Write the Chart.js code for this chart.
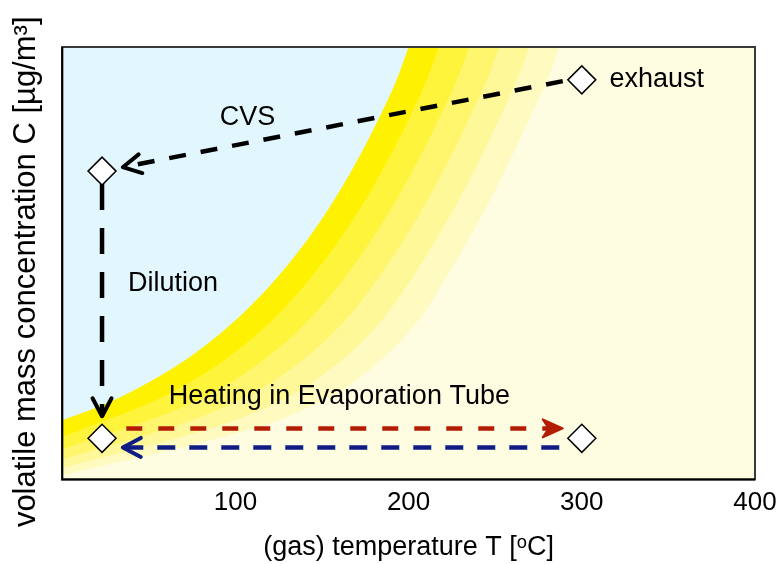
<!DOCTYPE html>
<html>
<head>
<meta charset="utf-8">
<script src="https://cdn.jsdelivr.net/npm/chart.js@4.4.0/dist/chart.umd.min.js"></script>
<style>
  body { margin: 0; background: #fff; }
  #wrap { width: 778px; height: 564px; }
</style>
</head>
<body>
<div id="wrap"><canvas id="volatileChart"></canvas></div>
<script>
// x axis tick labels (temperature, degC)
var tickTemps = [100, 200, 300, 400];

// state points: exhaust, after CVS, diluted, heated
var stateT = [300, 23, 23, 300];
var stateC = [92.4, 71.3, 9.5, 9.5];

// contour edges [T, C], from the saturation edge outwards
var edge0 = [[0,13.7],[18.5,16.4],[41.5,20.6],[70.7,27.5],[91.5,33.8],[108,39.8],[122.8,46.1],[141.3,55.3],[157,64.6],[170.4,73.8],[182.4,83.1],[193.1,92.4],[200,100],[206.5,107.4],[400,107.4]];
var edge1 = [[0,9.8],[25,13.7],[43,16.4],[65.5,20.6],[93.3,27.5],[113.1,33.8],[128.6,39.8],[142.4,46.1],[159.9,55.3],[175,64.6],[188,73.8],[199.8,83.1],[210.5,92.4],[217.4,100],[223.9,107.4],[400,107.4]];
var edge2 = [[0,7.0],[50,13.7],[67.5,16.4],[89.5,20.6],[115.9,27.5],[134.7,33.8],[149.2,39.8],[162,46.1],[178.5,55.3],[193,64.6],[205.6,73.8],[217.2,83.1],[227.9,92.4],[234.8,100],[241.3,107.4],[400,107.4]];
var edge3 = [[0,4.6],[75,13.7],[92,16.4],[113.5,20.6],[138.5,27.5],[156.3,33.8],[169.8,39.8],[181.6,46.1],[197.1,55.3],[211,64.6],[223.2,73.8],[234.6,83.1],[245.3,92.4],[252.2,100],[258.7,107.4],[400,107.4]];
var edge4 = [[0,2.6],[100,13.7],[116.5,16.4],[137.5,20.6],[161.1,27.5],[177.9,33.8],[190.4,39.8],[201.2,46.1],[215.7,55.3],[229,64.6],[240.8,73.8],[252,83.1],[262.7,92.4],[269.6,100],[276.1,107.4],[400,107.4]];
var edge5 = [[0,0.9],[125,13.7],[141,16.4],[161.5,20.6],[183.7,27.5],[199.5,33.8],[211,39.8],[220.8,46.1],[234.3,55.3],[247,64.6],[258.4,73.8],[269.4,83.1],[280.1,92.4],[287,100],[293.5,107.4],[400,107.4]];
var bandColors = ['#fff200', '#fff43c', '#fff66e', '#fff899', '#fffabf', '#fefce1'];

// process arrows
var cvsT = [289, 35],        cvsC = [92.1, 72.2];
var dilutionT = [23, 23],    dilutionC = [68.3, 14.6];
var heatingT = [37, 289],    heatingC = [11.8, 11.8];
var coolingT = [287, 35],    coolingC = [7.4, 7.4];

// text labels
var labelText = ['exhaust', 'CVS', 'Dilution', 'Heating in Evaporation Tube'];
var labelT = [316, 107, 38, 61.5];
var labelC = [92.4, 83.6, 45.4, 19.2];
var labelAlign = ['left', 'center', 'left', 'left'];

Chart.defaults.font.family = "'Liberation Sans', Arial, sans-serif";
Chart.defaults.color = '#000';

function toPoints(ts, cs) {
    return ts.map(function(t, i) { return { x: t, y: cs[i] }; });
}

var datasets = [];

datasets.push({
    data: toPoints(stateT, stateC),
    showLine: false,
    pointStyle: 'rectRot',
    pointRadius: 14,
    pointBackgroundColor: '#fff',
    pointBorderColor: '#000',
    pointBorderWidth: 1.5,
    order: 0
});

function arrow(ts, cs, color, dash, head) {
    return {
        data: toPoints(ts, cs),
        borderColor: color,
        borderWidth: 4.5,
        borderDash: dash,
        pointRadius: 0,
        fill: false,
        tension: 0,
        arrowHead: head,
        order: 1
    };
}
datasets.push(arrow(cvsT, cvsC, '#000', [17, 15], 'open'));
datasets.push(arrow(dilutionT, dilutionC, '#000', [26, 18], 'open'));
datasets.push(arrow(heatingT, heatingC, '#b31d04', [16, 16], 'solid'));
datasets.push(arrow(coolingT, coolingC, '#0f1c84', [18, 14], 'open'));

[edge0, edge1, edge2, edge3, edge4, edge5].forEach(function(edge, i) {
    datasets.push({
        data: edge.map(function(p) { return { x: p[0], y: p[1] }; }),
        fill: 'start',
        backgroundColor: bandColors[i],
        borderColor: 'rgba(0,0,0,0)',
        borderWidth: 0,
        pointRadius: 0,
        cubicInterpolationMode: 'monotone',
        order: 10 - i
    });
});

var frame = {
    id: 'frame',
    beforeDraw: function(chart) {
        var ctx = chart.ctx, a = chart.chartArea;
        ctx.save();
        ctx.fillStyle = '#fff';
        ctx.fillRect(0, 0, chart.width, chart.height);
        ctx.fillStyle = '#e1f6fd';
        ctx.fillRect(a.left, a.top, a.right - a.left, a.bottom - a.top);
        ctx.restore();
    },
    afterDatasetsDraw: function(chart) {
        var ctx = chart.ctx;
        var xs = chart.scales.x, ys = chart.scales.y;

        // arrow heads at the last point of each arrow line
        chart.data.datasets.forEach(function(ds, i) {
            if (!ds.arrowHead) return;
            var pts = chart.getDatasetMeta(i).data;
            var p1 = pts[pts.length - 2], p2 = pts[pts.length - 1];
            var ang = Math.atan2(p2.y - p1.y, p2.x - p1.x);
            ctx.save();
            ctx.translate(p2.x, p2.y);
            ctx.rotate(ang);
            ctx.strokeStyle = ds.borderColor;
            ctx.fillStyle = ds.borderColor;
            ctx.lineJoin = 'round';
            ctx.lineCap = 'round';
            if (ds.arrowHead === 'solid') {
                ctx.lineWidth = 2;
                ctx.beginPath();
                ctx.moveTo(0, 0);
                ctx.lineTo(-20, -9);
                ctx.lineTo(-14, 0);
                ctx.lineTo(-20, 9);
                ctx.closePath();
                ctx.fill();
                ctx.stroke();
            } else {
                ctx.lineWidth = 4;
                ctx.beginPath();
                ctx.moveTo(-18, -9.5);
                ctx.lineTo(0, 0);
                ctx.lineTo(-18, 9.5);
                ctx.stroke();
            }
            ctx.restore();
        });

        // text labels
        ctx.save();
        ctx.fillStyle = '#000';
        ctx.font = "27px 'Liberation Sans', Arial, sans-serif";
        ctx.textBaseline = 'middle';
        labelText.forEach(function(txt, i) {
            ctx.textAlign = labelAlign[i];
            ctx.fillText(txt, xs.getPixelForValue(labelT[i]), ys.getPixelForValue(labelC[i]));
        });
        ctx.restore();
    },
    afterDraw: function(chart) {
        var ctx = chart.ctx, a = chart.chartArea;
        ctx.save();
        ctx.lineWidth = 2;
        ctx.strokeStyle = '#3a3a3a';
        ctx.strokeRect(a.left, a.top, a.right - a.left, a.bottom - a.top);
        ctx.strokeStyle = '#000';
        ctx.beginPath();
        ctx.moveTo(a.left, a.top);
        ctx.lineTo(a.left, a.bottom);
        ctx.lineTo(a.right, a.bottom);
        ctx.stroke();
        ctx.restore();
    }
};

new Chart(document.getElementById('volatileChart'), {
    type: 'line',
    data: { datasets: datasets },
    options: {
        responsive: true,
        maintainAspectRatio: false,
        animation: false,
        events: [],
        layout: { padding: { top: 47, right: 23, left: 0, bottom: 0 } },
        plugins: {
            legend: { display: false },
            tooltip: { enabled: false }
        },
        scales: {
            x: {
                type: 'linear',
                min: 0,
                max: 400,
                afterBuildTicks: function(scale) {
                    scale.ticks = tickTemps.map(function(v) { return { value: v }; });
                },
                // the "400" label may hang past the plot edge, as in the original
                afterFit: function(scale) {
                    scale.paddingLeft = 0;
                    scale.paddingRight = 0;
                },
                ticks: { font: { size: 26 }, padding: 8, maxRotation: 0 },
                grid: { display: false, drawTicks: false },
                border: { display: false },
                title: {
                    display: true,
                    text: '(gas) temperature T [\u1D52C]',
                    font: { size: 27 },
                    padding: { top: 5, bottom: 0 }
                }
            },
            y: {
                type: 'linear',
                min: 0,
                max: 100,
                ticks: { display: false },
                grid: { display: false, drawTicks: false },
                border: { display: false },
                title: {
                    display: true,
                    text: 'volatile mass concentration C [\u00B5g/m\u00B3]\u00A0\u00A0',
                    font: { size: 31 },
                    padding: { top: 8, bottom: 17 }
                }
            }
        }
    },
    plugins: [frame]
});
</script>
</body>
</html>
